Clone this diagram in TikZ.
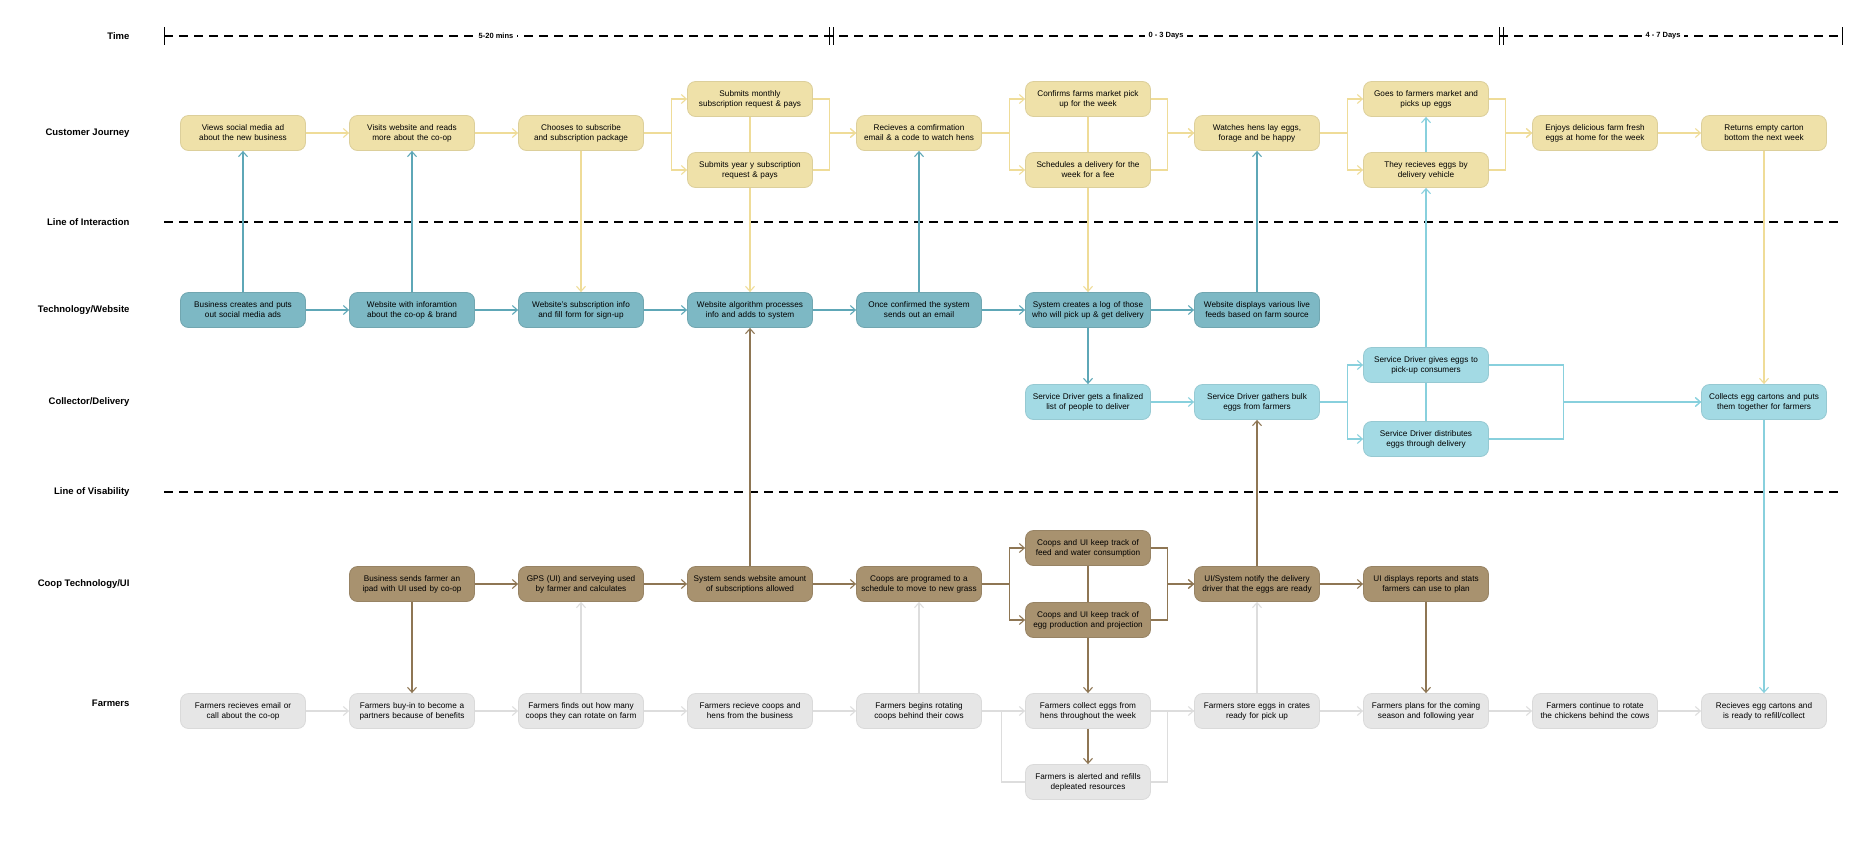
\documentclass[tikz,border=0pt]{standalone}
\usepackage{fontspec}
\setmainfont{Liberation Sans}
\usetikzlibrary{arrows.meta}
\definecolor{cjfill}{HTML}{EFE1A9}\definecolor{cjline}{HTML}{EFDC98}
\definecolor{tefill}{HTML}{7DB8C4}\definecolor{teline}{HTML}{5EA7B7}
\definecolor{cdfill}{HTML}{A3DAE4}\definecolor{cdline}{HTML}{88D0DD}
\definecolor{cofill}{HTML}{A8926F}\definecolor{coline}{HTML}{8E7654}
\definecolor{fafill}{HTML}{E6E6E6}\definecolor{faline}{HTML}{DDDDDD}
\tikzset{
  box/.style={rounded corners=8pt, minimum width=125pt, minimum height=35pt,
    text width=124pt, align=center, inner sep=0.5pt, line width=0.8pt,
    font=\fontsize{8.2}{10}\selectfont},
  jbox/.style={box, fill=cjfill, draw=cjfill!92!black},
  tbox/.style={box, fill=tefill, draw=tefill!90!black},
  dbox/.style={box, fill=cdfill, draw=cdfill!92!black},
  ubox/.style={box, fill=cofill, draw=cofill!90!black},
  fbox/.style={box, fill=fafill, draw=fafill!95!black},
  flow/.style={line width=1.1pt, -{Straight Barb[length=5pt,width=9pt]}},
  bare/.style={line width=1.1pt},
  lane/.style={anchor=east, font=\bfseries\fontsize{9.5}{11}\selectfont},
  sep/.style={line width=1.2pt, dash pattern=on 9pt off 6pt},
  tlabel/.style={fill=white, font=\bfseries\fontsize{7.5}{9}\selectfont}
}
\begin{document}
\begin{tikzpicture}[x=1pt,y=-1pt]
\useasboundingbox (0,0) rectangle (1871,860);
% lane titles
\node[lane] (lt) at (133,36) {Time};
\node[lane] (lc) at (133,133) {Customer Journey};
\node[lane] (li) at (133,222) {Line of Interaction};
\node[lane] (lw) at (133,310) {Technology/Website};
\node[lane] (ld) at (133,402) {Collector/Delivery};
\node[lane] (lv) at (133,492) {Line of Visability};
\node[lane] (lu) at (133,584) {Coop Technology/UI};
\node[lane] (lf) at (133,703) {Farmers};
% time axis
\draw[sep] (164,36) -- (1842,36);
\foreach \xb in {164,829,833,1499,1503,1842} \draw[line width=1pt] (\xb,27) -- (\xb,45);
\node[tlabel] (tm1) at (496,36) {5-20 mins};
\node[tlabel] (tm2) at (1166,36) {0 - 3 Days};
\node[tlabel] (tm3) at (1663,36) {4 - 7 Days};
\draw[sep] (164,222) -- (1842,222);
\draw[sep] (164,492) -- (1842,492);

% customer journey
\node[jbox] (c1) at (243,133) {Views social media ad\\about the new business};
\node[jbox] (c2) at (412,133) {Visits website and reads\\more about the co-op};
\node[jbox] (c3) at (581,133) {Chooses to subscribe\\and subscription package};
\node[jbox] (c4a) at (750,99) {Submits monthly\\subscription request \& pays};
\node[jbox] (c4b) at (750,170) {Submits year y subscription\\request \& pays};
\node[jbox] (c5) at (919,133) {Recieves a comfirmation\\email \& a code to watch hens};
\node[jbox] (c6a) at (1088,99) {Confirms farms market pick\\up for the week};
\node[jbox] (c6b) at (1088,170) {Schedules a delivery for the\\week for a fee};
\node[jbox] (c7) at (1257,133) {Watches hens lay eggs,\\forage and be happy};
\node[jbox] (c8a) at (1426,99) {Goes to farmers market and\\picks up eggs};
\node[jbox] (c8b) at (1426,170) {They recieves eggs by\\delivery vehicle};
\node[jbox] (c9) at (1595,133) {Enjoys delicious farm fresh\\eggs at home for the week};
\node[jbox] (c10) at (1764,133) {Returns empty carton\\bottom the next week};

% technology / website
\node[tbox] (t1) at (243,310) {Business creates and puts\\out social media ads};
\node[tbox] (t2) at (412,310) {Website with inforamtion\\about the co-op \& brand};
\node[tbox] (t3) at (581,310) {Website's subscription info\\and fill form for sign-up};
\node[tbox] (t4) at (750,310) {Website algorithm processes\\info and adds to system};
\node[tbox] (t5) at (919,310) {Once confirmed the system\\sends out an email};
\node[tbox] (t6) at (1088,310) {System creates a log of those\\who will pick up \& get delivery};
\node[tbox] (t7) at (1257,310) {Website displays various live\\feeds based on farm source};

% collector / delivery
\node[dbox] (d6) at (1088,402) {Service Driver gets a finalized\\list of people to deliver};
\node[dbox] (d7) at (1257,402) {Service Driver gathers bulk\\eggs from farmers};
\node[dbox] (d8a) at (1426,365) {Service Driver gives eggs to\\pick-up consumers};
\node[dbox] (d8b) at (1426,439) {Service Driver distributes\\eggs through delivery};
\node[dbox] (d10) at (1764,402) {Collects egg cartons and puts\\them together for farmers};

% coop technology / UI
\node[ubox] (u2) at (412,584) {Business sends farmer an\\ipad with UI used by co-op};
\node[ubox] (u3) at (581,584) {GPS (UI) and serveying used\\by farmer and calculates};
\node[ubox] (u4) at (750,584) {System sends website amount\\of subscriptions allowed};
\node[ubox] (u5) at (919,584) {Coops are programed to a\\schedule to move to new grass};
\node[ubox] (u6a) at (1088,548) {Coops and UI keep track of\\feed and water consumption};
\node[ubox] (u6b) at (1088,620) {Coops and UI keep track of\\egg production and projection};
\node[ubox] (u7) at (1257,584) {UI/System notify the delivery\\driver that the eggs are ready};
\node[ubox] (u8) at (1426,584) {UI displays reports and stats\\farmers can use to plan};

% farmers
\node[fbox] (f1) at (243,711) {Farmers recieves email or\\call about the co-op};
\node[fbox] (f2) at (412,711) {Farmers buy-in to become a\\partners because of benefits};
\node[fbox] (f3) at (581,711) {Farmers finds out how many\\coops they can rotate on farm};
\node[fbox] (f4) at (750,711) {Farmers recieve coops and\\hens from the business};
\node[fbox] (f5) at (919,711) {Farmers begins rotating\\coops behind their cows};
\node[fbox] (f6) at (1088,711) {Farmers collect eggs from\\hens throughout the week};
\node[fbox] (f6x) at (1088,782) {Farmers is alerted and refills\\depleated resources};
\node[fbox] (f7) at (1257,711) {Farmers store eggs in crates\\ready for pick up};
\node[fbox] (f8) at (1426,711) {Farmers plans for the coming\\season and following year};
\node[fbox] (f9) at (1595,711) {Farmers continue to rotate\\the chickens behind the cows};
\node[fbox] (f10) at (1764,711) {Recieves egg cartons and\\is ready to refill/collect};

% customer connectors
\begin{scope}[cjline]
\draw[flow] (c1) -- (c2);
\draw[flow] (c2) -- (c3);
\draw[flow] (c3.east) -- ++(28,0) |- (c4a.west);
\draw[flow] (c3.east) -- ++(28,0) |- (c4b.west);
\draw[flow] (c4a.east) -- ++(17,0) |- (c5.west);
\draw[flow] (c4b.east) -- ++(17,0) |- (c5.west);
\draw[bare] (c4a) -- (c4b);
\draw[flow] (c5.east) -- ++(28,0) |- (c6a.west);
\draw[flow] (c5.east) -- ++(28,0) |- (c6b.west);
\draw[flow] (c6a.east) -- ++(17,0) |- (c7.west);
\draw[flow] (c6b.east) -- ++(17,0) |- (c7.west);
\draw[bare] (c6a) -- (c6b);
\draw[flow] (c7.east) -- ++(28,0) |- (c8a.west);
\draw[flow] (c7.east) -- ++(28,0) |- (c8b.west);
\draw[flow] (c8a.east) -- ++(17,0) |- (c9.west);
\draw[flow] (c8b.east) -- ++(17,0) |- (c9.west);
\draw[flow] (c9) -- (c10);
\draw[flow] (c3) -- (t3);
\draw[flow] (c4b) -- (t4);
\draw[flow] (c6b) -- (t6);
\draw[flow] (c10) -- (d10);
\end{scope}

% technology connectors
\begin{scope}[teline]
\draw[flow] (t1) -- (t2);
\draw[flow] (t2) -- (t3);
\draw[flow] (t3) -- (t4);
\draw[flow] (t4) -- (t5);
\draw[flow] (t5) -- (t6);
\draw[flow] (t6) -- (t7);
\draw[flow] (t1) -- (c1);
\draw[flow] (t2) -- (c2);
\draw[flow] (t5) -- (c5);
\draw[flow] (t7) -- (c7);
\draw[flow] (t6) -- (d6);
\end{scope}

% delivery connectors
\begin{scope}[cdline]
\draw[flow] (d6) -- (d7);
\draw[flow] (d7.east) -- ++(28,0) |- (d8a.west);
\draw[flow] (d7.east) -- ++(28,0) |- (d8b.west);
\draw[flow] (d8a.east) -- ++(75,0) |- (d10.west);
\draw[flow] (d8b.east) -- ++(75,0) |- (d10.west);
\draw[bare] (d8a) -- (d8b);
\draw[flow] (d8a) -- (c8b);
\draw[flow] (c8b) -- (c8a);
\draw[flow] (d10) -- (f10);
\end{scope}

% coop connectors
\begin{scope}[coline]
\draw[flow] (u2) -- (u3);
\draw[flow] (u3) -- (u4);
\draw[flow] (u4) -- (u5);
\draw[flow] (u5.east) -- ++(28,0) |- (u6a.west);
\draw[flow] (u5.east) -- ++(28,0) |- (u6b.west);
\draw[flow] (u6a.east) -- ++(17,0) |- (u7.west);
\draw[flow] (u6b.east) -- ++(17,0) |- (u7.west);
\draw[bare] (u6a) -- (u6b);
\draw[flow] (u7) -- (u8);
\draw[flow] (u4) -- (t4);
\draw[flow] (u7) -- (d7);
\draw[flow] (u2) -- (f2);
\draw[flow] (u6b) -- (f6);
\draw[flow] (u8) -- (f8);
\draw[flow] (f6) -- (f6x);
\end{scope}

% farmer connectors
\begin{scope}[faline]
\draw[flow] (f1) -- (f2);
\draw[flow] (f2) -- (f3);
\draw[flow] (f3) -- (f4);
\draw[flow] (f4) -- (f5);
\draw[flow] (f5) -- (f6);
\draw[flow] (f6) -- (f7);
\draw[flow] (f7) -- (f8);
\draw[flow] (f8) -- (f9);
\draw[flow] (f9) -- (f10);
\draw[bare] (f5.east) -- ++(20,0) |- (f6x.west);
\draw[bare] (f6x.east) -- ++(17,0) |- (f7.west);
\draw[flow] (f3) -- (u3);
\draw[flow] (f5) -- (u5);
\draw[flow] (f7) -- (u7);
\end{scope}
\end{tikzpicture}
\end{document}
